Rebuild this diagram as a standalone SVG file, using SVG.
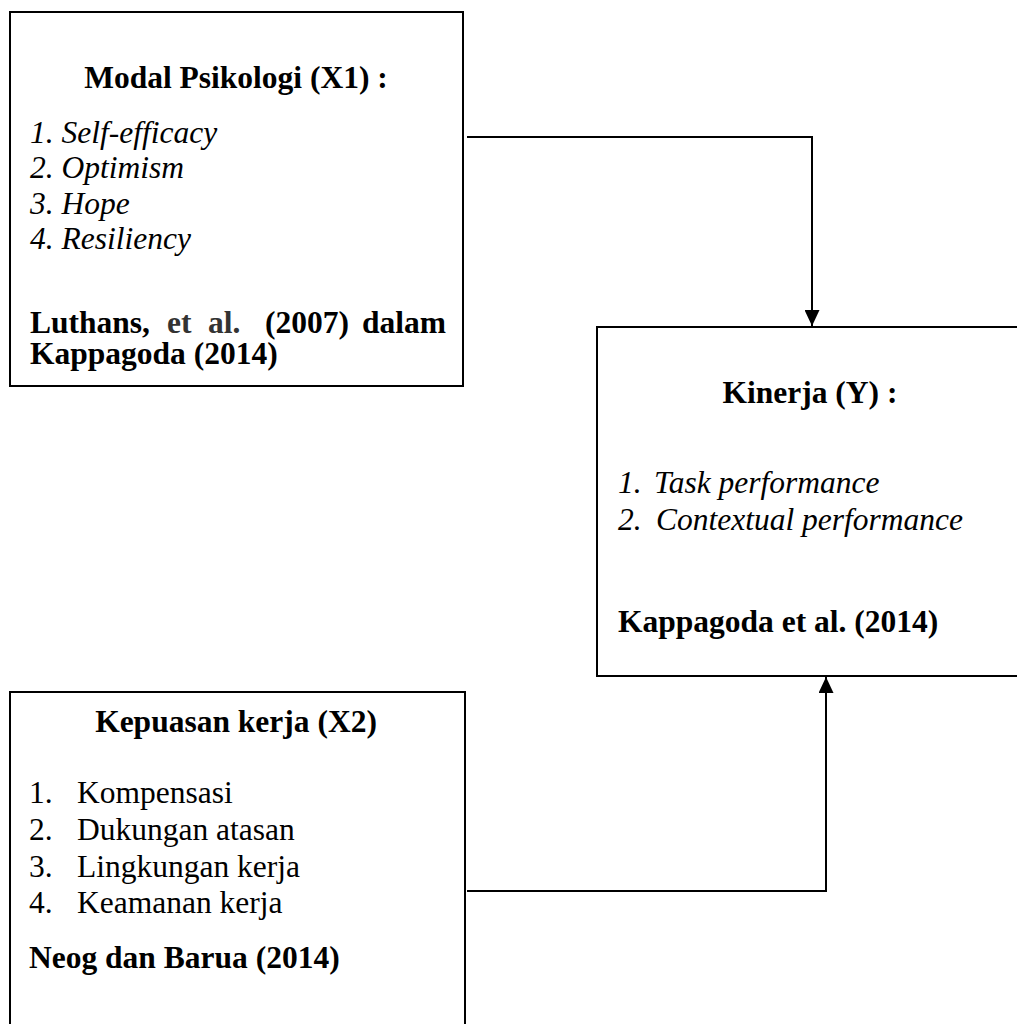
<svg xmlns="http://www.w3.org/2000/svg" width="1017" height="1024" viewBox="0 0 1017 1024">
  <style>
    .box { fill: #fff; stroke: #000; stroke-width: 2; }
    .t { font-family: "Liberation Serif", "Times New Roman", serif; font-size: 31.5px; fill: #000; }
    .b { font-weight: bold; }
    .i { font-style: italic; }
    .g { fill: #333; }
    .conn { fill: none; stroke: #000; stroke-width: 2; }
  </style>
  <defs>
    <marker id="arrow" markerUnits="userSpaceOnUse" markerWidth="16" markerHeight="15" refX="16" refY="7.5" orient="auto">
      <path d="M0,0 L16,7.5 L0,15 z" fill="#000"/>
    </marker>
  </defs>
  <rect width="1017" height="1024" fill="#fff"/>

  <g id="node-x1">
    <rect class="box" x="10" y="12" width="453" height="374"/>
    <text class="t b" x="236" y="88" text-anchor="middle">Modal Psikologi (X1) :</text>
    <text class="t i" x="30" y="143">1. Self-efficacy</text>
    <text class="t i" x="30" y="178">2. Optimism</text>
    <text class="t i" x="30" y="214">3. Hope</text>
    <text class="t i" x="30" y="249">4. Resiliency</text>
    <text class="t b" x="30" y="333">Luthans,</text>
    <text class="t b g" x="167" y="333">et</text>
    <text class="t b g" x="208" y="333">al.</text>
    <text class="t b" x="265" y="333">(2007)</text>
    <text class="t b" x="362" y="333">dalam</text>
    <text class="t b" x="30" y="364">Kappagoda (2014)</text>
  </g>

  <g id="node-y">
    <rect class="box" x="597" y="327" width="440" height="349"/>
    <text class="t b" x="810" y="403" text-anchor="middle">Kinerja (Y) :</text>
    <text class="t i" x="618" y="493">1.</text>
    <text class="t i" x="654" y="493">Task performance</text>
    <text class="t i" x="618" y="530">2.</text>
    <text class="t i" x="656" y="530">Contextual performance</text>
    <text class="t b" x="618" y="632">Kappagoda et al. (2014)</text>
  </g>

  <g id="node-x2">
    <rect class="box" x="10" y="692" width="455" height="400"/>
    <text class="t b" x="236" y="732" text-anchor="middle">Kepuasan kerja (X2)</text>
    <text class="t" x="29" y="803">1.</text>
    <text class="t" x="77" y="803">Kompensasi</text>
    <text class="t" x="29" y="840">2.</text>
    <text class="t" x="77" y="840">Dukungan atasan</text>
    <text class="t" x="29" y="877">3.</text>
    <text class="t" x="77" y="877">Lingkungan kerja</text>
    <text class="t" x="29" y="913">4.</text>
    <text class="t" x="77" y="913">Keamanan kerja</text>
    <text class="t b" x="29" y="968">Neog dan Barua (2014)</text>
  </g>

  <g id="connectors">
    <path class="conn" d="M467,137 H812 V326" marker-end="url(#arrow)"/>
    <path class="conn" d="M467,891 H826 V677" marker-end="url(#arrow)"/>
  </g>
</svg>
